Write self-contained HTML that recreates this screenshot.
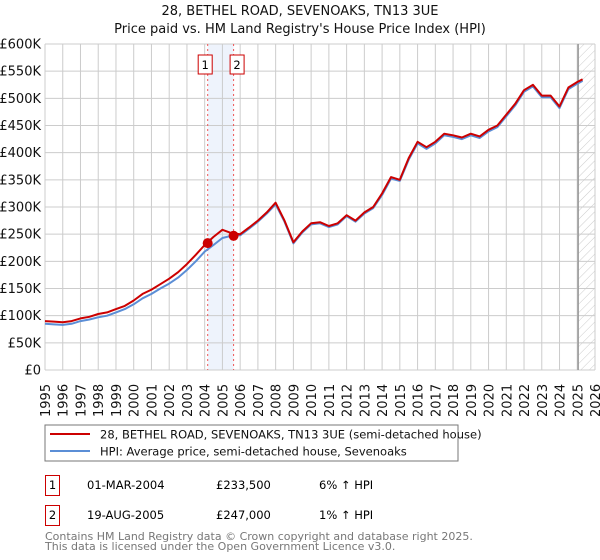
<!DOCTYPE html>
<html><head><meta charset="utf-8"><style>
body{margin:0;background:#fff;font-family:"DejaVu Sans","Liberation Sans",sans-serif;}
#wrap{position:relative;width:600px;height:560px;overflow:hidden}
</style></head><body>
<div id="wrap">
<svg id="chart" width="600" height="560" xmlns="http://www.w3.org/2000/svg" font-family="DejaVu Sans, Liberation Sans, sans-serif">
<text x="300" y="15" text-anchor="middle" font-size="13" fill="#111">28, BETHEL ROAD, SEVENOAKS, TN13 3UE</text>
<text x="300" y="33" text-anchor="middle" font-size="13" fill="#111">Price paid vs. HM Land Registry's House Price Index (HPI)</text>
<defs><pattern id="hatch" width="6" height="6" patternUnits="userSpaceOnUse" patternTransform="rotate(45)"><line x1="0" y1="0" x2="0" y2="6" stroke="#ccc" stroke-width="1"/></pattern></defs>
<g id="grid"></g><g id="marks"></g><g id="axes"></g>
<rect x="45" y="425" width="413" height="36" fill="#fff" stroke="#777"/>
<line x1="50" y1="434" x2="90" y2="434" stroke="#cc0000" stroke-width="2"/>
<text x="100" y="438.5" font-size="11.5" fill="#111">28, BETHEL ROAD, SEVENOAKS, TN13 3UE (semi-detached house)</text>
<line x1="50" y1="451" x2="90" y2="451" stroke="#5b8ed6" stroke-width="2"/>
<text x="100" y="455.5" font-size="11.5" fill="#111">HPI: Average price, semi-detached house, Sevenoaks</text>
<rect x="45.5" y="475.5" width="14" height="20" fill="#fff" stroke="#cc0000"/>
<text x="52.5" y="489" text-anchor="middle" font-size="11.5">1</text>
<text x="87" y="489" font-size="11.5">01-MAR-2004</text>
<text x="216" y="489" font-size="11.5">£233,500</text>
<text x="319" y="489" font-size="11.5">6% ↑ HPI</text>
<rect x="45.5" y="505.5" width="14" height="20" fill="#fff" stroke="#cc0000"/>
<text x="52.5" y="519" text-anchor="middle" font-size="11.5">2</text>
<text x="87" y="519" font-size="11.5">19-AUG-2005</text>
<text x="216" y="519" font-size="11.5">£247,000</text>
<text x="319" y="519" font-size="11.5">1% ↑ HPI</text>
<text x="45" y="540" font-size="11" fill="#777">Contains HM Land Registry data © Crown copyright and database right 2025.</text>
<text x="45" y="550" font-size="11" fill="#777">This data is licensed under the Open Government Licence v3.0.</text>
</svg></div>
<script>
const years=[1995,1995.5,1996,1996.5,1997,1997.5,1998,1998.5,1999,1999.5,2000,2000.5,2001,2001.5,2002,2002.5,2003,2003.5,2004,2004.5,2005,2005.5,2006,2006.5,2007,2007.5,2008,2008.5,2009,2009.5,2010,2010.5,2011,2011.5,2012,2012.5,2013,2013.5,2014,2014.5,2015,2015.5,2016,2016.5,2017,2017.5,2018,2018.5,2019,2019.5,2020,2020.5,2021,2021.5,2022,2022.5,2023,2023.5,2024,2024.5,2025,2025.3];
const propertyValues=[90,89,88,90,95,98,103,106,112,118,128,140,148,158,168,180,195,212,230,245,258,252,250,262,275,290,308,275,235,255,270,272,265,270,285,275,290,300,325,355,350,390,420,410,420,435,432,428,435,430,442,450,470,490,515,525,505,505,485,520,530,535];
const hpiValues=[85,84,83,85,90,93,97,100,106,112,121,132,140,150,159,170,184,200,218,230,243,247,248,260,273,288,305,273,233,253,268,270,263,268,283,273,288,298,322,352,348,387,417,407,417,432,429,425,432,427,439,447,467,487,512,522,502,502,482,517,527,532];
const yTicks=[0,50,100,150,200,250,300,350,400,450,500,550,600];
const yTickLabels=["£0","£50K","£100K","£150K","£200K","£250K","£300K","£350K","£400K","£450K","£500K","£550K","£600K"];
const xTicks=[1995,1996,1997,1998,1999,2000,2001,2002,2003,2004,2005,2006,2007,2008,2009,2010,2011,2012,2013,2014,2015,2016,2017,2018,2019,2020,2021,2022,2023,2024,2025,2026];
const saleYears=[2004.17,2005.63];
const salePrices=[233.5,247];
const saleLabels=["1","2"];
const dataEnd=2025.05;

const X0=45,X1=595,Y0=370,Y1=44;
const x=v=>X0+(v-1995)/(2026-1995)*(X1-X0);
const y=v=>Y0-v/600*(Y0-Y1);
const NS="http://www.w3.org/2000/svg";
function mk(t,a,p){const e=document.createElementNS(NS,t);for(const k in a)e.setAttribute(k,a[k]);p.appendChild(e);return e;}
const grid=document.getElementById('grid'),marks=document.getElementById('marks'),axes=document.getElementById('axes');
// shading
let sh=mk('rect',{x:x(saleYears[0]),y:Y1,width:x(saleYears[1])-x(saleYears[0]),height:Y0-Y1,fill:'#eef3fc'},grid);


let ht=mk('rect',{x:x(dataEnd),y:Y1,width:X1-x(dataEnd),height:Y0-Y1,fill:'url(#hatch)'},grid);


yTicks.forEach((t,i)=>{
 let l=mk('line',{x1:X0,x2:X1,y1:y(t),y2:y(t),stroke:'#cccccc'},grid);
 
 
 let tx=mk('text',{x:X0-4,y:y(t)+4.5,'text-anchor':'end','font-size':'13',fill:'#111'},axes);
 tx.textContent=yTickLabels[i];
 
 
});
xTicks.forEach(t=>{
 let l=mk('line',{x1:x(t),x2:x(t),y1:Y1,y2:Y0,stroke:'#cccccc'},grid);
 
 
 let tx=mk('text',{x:0,y:0,'font-size':'13',fill:'#111',transform:`translate(${x(t)+5},${Y0+47}) rotate(-90)`},axes);
 tx.textContent=t;
 
 
});
let el=mk('line',{x1:x(dataEnd),x2:x(dataEnd),y1:Y1,y2:Y0,stroke:'#999','stroke-width':1.5},grid);


saleYears.forEach((s,i)=>{
 let l=mk('line',{x1:x(s),x2:x(s),y1:Y1,y2:Y0,stroke:'#ee5555','stroke-dasharray':'2,3'},grid);
 
 
 let r=mk('rect',{x:x(s)-12.5+(i?5:-5)*0,y:55,width:14,height:19,fill:'#fff',stroke:'#cc0000'},axes);
 r.setAttribute('x',i===0?x(s)-9.5:x(s)-3.5);
 
 
 let t=mk('text',{x:(i===0?x(s)-2.5:x(s)+3.5),y:69,'text-anchor':'middle','font-size':'11.5'},axes);
 t.textContent=saleLabels[i];
 
 
});
const pts=(arr)=>years.map((yr,i)=>x(yr).toFixed(1)+','+y(arr[i]).toFixed(1)).join(' ');
let hp=mk('polyline',{points:pts(hpiValues),fill:'none',stroke:'#5b8ed6','stroke-width':2,'stroke-linejoin':'round'},marks);


let pp=mk('polyline',{points:pts(propertyValues),fill:'none',stroke:'#cc0000','stroke-width':2,'stroke-linejoin':'round'},marks);


saleYears.forEach((s,i)=>{
 let c=mk('circle',{cx:x(s),cy:y(salePrices[i]),r:5,fill:'#cc0000'},marks);
 
 
});
</script>
</body></html>
